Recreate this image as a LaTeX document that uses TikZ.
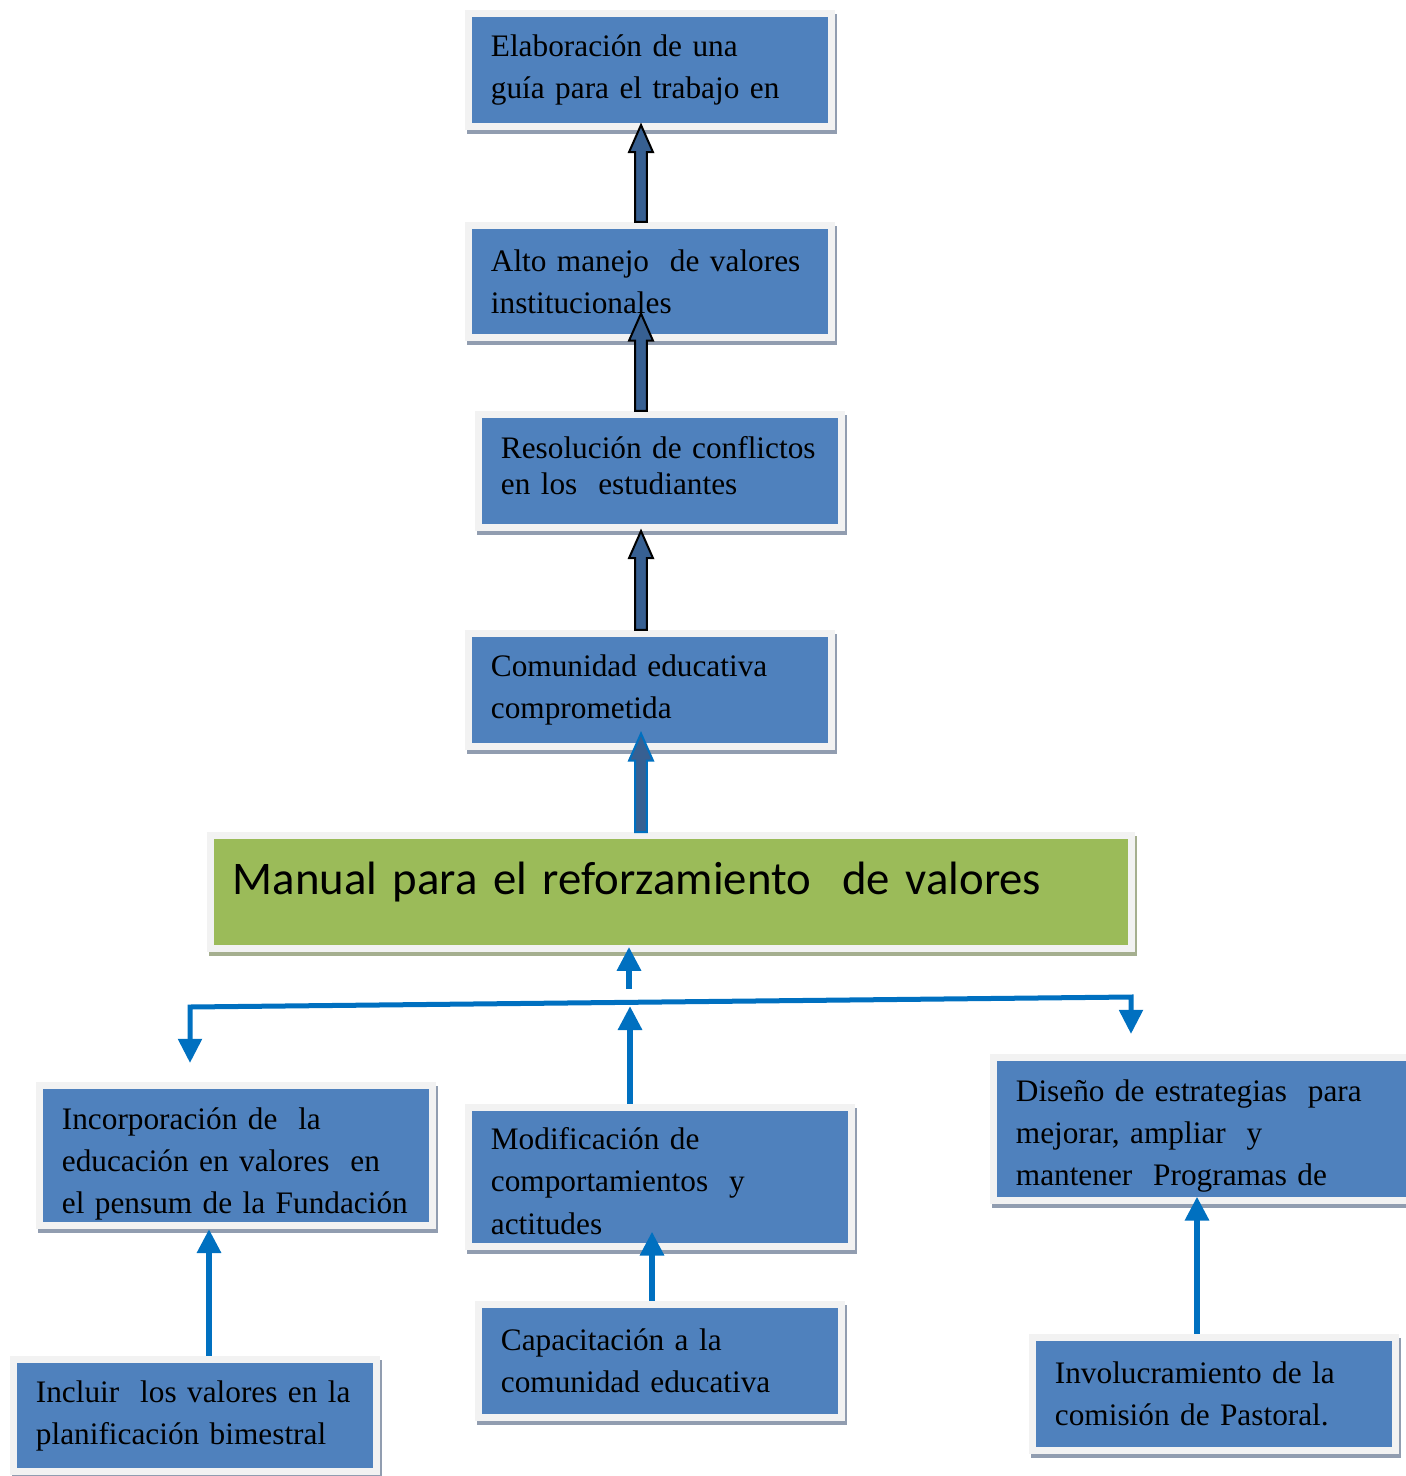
\documentclass[tikz,border=0pt]{standalone}
\usepackage{fontspec}
\setmainfont{Liberation Serif}
\newfontfamily\calibrifont{Carlito}
\usetikzlibrary{calc,arrows.meta}

\definecolor{boxblue}{RGB}{79,129,189}
\definecolor{boxgreen}{RGB}{155,187,89}
\definecolor{framegray}{RGB}{242,242,242}
\definecolor{shadeblue}{RGB}{145,157,176}
\definecolor{shadegreen}{RGB}{165,175,143}
\definecolor{arrowdark}{RGB}{55,96,146}
\definecolor{linkblue}{RGB}{0,112,192}

\tikzset{
  framed/.style={draw=framegray, line width=0.07cm, inner xsep=0.225cm, inner ysep=0pt,
    preaction={draw=#1, line width=0.07cm, transform canvas={xshift=0.02cm,yshift=-0.04cm}},
    execute at begin node={\parindent=0pt\raggedright\rightskip=0pt plus 1fil minus 1cm}},
  bluebox/.style 2 args={framed=shadeblue, fill=boxblue, text width=#1, minimum height=#2,
    font=\fontsize{8.9}{11.95}\selectfont},
  greenbox/.style={framed=shadegreen, fill=boxgreen, text width=8.76cm, minimum height=1.125cm,
    text height=10pt, text depth=8.3pt, font=\calibrifont\fontsize{13.3}{16}\selectfont},
  fatarrow/.style={draw=black, line width=0.02cm, fill=arrowdark,
    to path={let \p1=(\tikztostart), \p2=(\tikztotarget) in
      (\x1-1.7pt,\y1) -- (\x1-1.7pt,\y2-7.7pt) -- (\x1-3.4pt,\y2-7.7pt) -- (\x1,\y2)
      -- (\x1+3.4pt,\y2-7.7pt) -- (\x1+1.7pt,\y2-7.7pt) -- (\x1+1.7pt,\y1) -- cycle}},
  bluelink/.style={draw=linkblue, line width=0.06cm, -{Triangle[width=0.23cm,length=0.24cm]}}
}

\begin{document}
\begin{tikzpicture}[x=0.01cm,y=-0.01cm]
  \useasboundingbox (0,0) rectangle (1405,1476);
  %\draw[very thin,lightgray] (0,0) grid[step=100] (1405,1476);

  % upper chain
  \node[bluebox={3.18cm}{1.13cm}] (elab) at (650,70) {Elaboración de una\\guía para el trabajo en};
  \node[bluebox={3.18cm}{1.12cm}] (alto) at (650,281.5) {Alto manejo\ \ de valores\\institucionales};
  \node[bluebox={3.18cm}{1.13cm}, font=\fontsize{8.9}{10.5}\selectfont, text height=3.2pt] (resol) at (660,471)
    {Resolución de conflictos\\en los\ \ estudiantes};
  \node[bluebox={3.18cm}{1.13cm}] (comun) at (650,690) {Comunidad educativa\\comprometida};
  \node[greenbox] (manual) at (671,892) {Manual para el reforzamiento\ \ de valores};

  % lower boxes
  \node[bluebox={3.48cm}{1.40cm}, text height=10.8pt] (incorp) at (236,1155.5)
    {Incorporación de\ \ la\\educación en valores\ \ en\\el pensum de la Fundación};
  \node[bluebox={3.38cm}{1.39cm}, text height=8.6pt] (modif) at (660,1177)
    {Modificación de\\comportamientos\ \ y\\actitudes};
  \node[bluebox={3.82cm}{1.43cm}, text height=10.3pt] (diseno) at (1207,1129)
    {Diseño de estrategias\ \ para\\mejorar, ampliar\ \ y\\mantener\ \ Programas de};
  \node[bluebox={3.18cm}{1.12cm}] (incluir) at (195,1415.5) {Incluir\ \ los valores en la\\planificación bimestral};
  \node[bluebox={3.18cm}{1.13cm}] (capac) at (660,1361) {Capacitación a la\\comunidad educativa};
  \node[bluebox={3.18cm}{1.13cm}] (involuc) at (1214,1394) {Involucramiento de la\\comisión de Pastoral.};

  % block arrows
  \draw[fatarrow] ($(alto.north)+(-9,0)$) to ($(elab.south)+(-9,-5)$);
  \draw[fatarrow] ($(resol.north)+(-19,0)$) to ($(alto.south)+(-9,-27.5)$);
  \draw[fatarrow] ($(comun.north)+(-9,0)$) to ($(resol.south)+(-19,0)$);
  \draw[fatarrow, draw=linkblue] ($(manual.north)+(-30,0)$) to ($(comun.south)+(-9,-16.5)$);

  % blue connectors
  \coordinate (hubL) at (190,1007);
  \coordinate (hubR) at (1131,997);
  \coordinate (up0) at (629,989);
  \draw[bluelink] (up0) -- ($(manual.south)+(-42,-5)$);
  \draw[bluelink, {Triangle[width=0.23cm,length=0.24cm]}-{Triangle[width=0.23cm,length=0.24cm]}, line width=0.05cm]
    ($(incorp.north)+(-46,-19)$) -- (hubL) -- (hubR) -- ($(diseno.north)+(-76,-20)$);
  \draw[bluelink] ($(modif.north)+(-30,0)$) -- (630,1006);
  \draw[bluelink] ($(incluir.north)+(14,0)$) -- ($(incorp.south)+(-27,0)$);
  \draw[bluelink] ($(capac.north)+(-8,0)$) -- ($(modif.south)+(-8,-18.5)$);
  \draw[bluelink] ($(involuc.north)+(-17,0)$) -- ($(diseno.south)+(-10,-7.5)$);
\end{tikzpicture}
\end{document}
